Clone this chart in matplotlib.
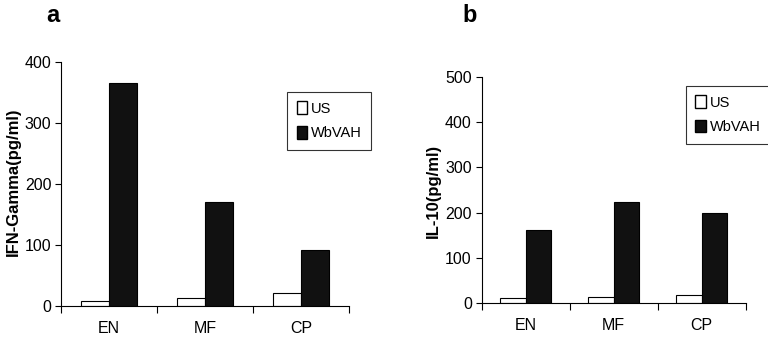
import matplotlib.pyplot as plt
from matplotlib.patches import Patch

# datos
categories = ['EN', 'MF', 'CP']
ifn_us = [8, 13, 21]
ifn_wbvah = [366, 170, 92]
il10_us = [10, 13, 18]
il10_wbvah = [161, 224, 198]

plt.rcParams['font.family'] = ['Liberation Sans', 'DejaVu Sans']

fig = plt.figure(figsize=(7.68, 3.37), dpi=100)
ax_a = fig.add_axes([0.0794, 0.092, 0.375, 0.724])
ax_b = fig.add_axes([0.627, 0.101, 0.344, 0.671])

def draw_panel(ax, us, wb, ymax, leg_pos):
    w = 0.292
    centers = [i + 0.5 for i in range(len(categories))]
    ax.bar([c - w for c in centers], us, width=w, align='edge',
           color='white', edgecolor='black', linewidth=0.8)
    ax.bar(centers, wb, width=w, align='edge',
           color='#111111', edgecolor='black', linewidth=0.8)
    ax.set_xlim(0, len(categories))
    ax.set_ylim(0, ymax)
    ax.set_yticks(range(0, ymax + 1, 100))
    ax.set_xticks(range(len(categories) + 1))
    ax.set_xticklabels([])
    ax.set_xticks(centers, categories, minor=True)
    ax.tick_params(axis='x', which='minor', length=0, pad=11, labelsize=11.5)
    ax.tick_params(axis='x', which='major', length=5, direction='out')
    ax.tick_params(axis='y', length=4, labelsize=11.5, pad=3)
    for s in ['top', 'right']:
        ax.spines[s].set_visible(False)
    handles = [Patch(facecolor='white', edgecolor='black', label='US'),
               Patch(facecolor='#111111', edgecolor='black', label='WbVAH')]
    leg = ax.legend(handles=handles, loc='upper left', bbox_to_anchor=leg_pos,
                    fancybox=False, edgecolor='black', fontsize=10.5,
                    handlelength=0.75, handleheight=0.95, handletextpad=0.25,
                    labelspacing=0.7, borderpad=0.65, borderaxespad=0)
    leg.get_frame().set_linewidth(0.8)

draw_panel(ax_a, ifn_us, ifn_wbvah, 400, (0.785, 0.877))
draw_panel(ax_b, il10_us, il10_wbvah, 500, (0.773, 0.96))

# etiquetas del eje y como texto de figura para que no se corten
fig.text(13 / 768, 1 - 182 / 337, 'IFN-Gamma(pg/ml)', fontsize=12, fontweight='bold',
         rotation=90, ha='center', va='center')
fig.text(433 / 768, 1 - 191 / 337, 'IL-10(pg/ml)', fontsize=12, fontweight='bold',
         rotation=90, ha='center', va='center')

fig.text(53 / 768, 1 - 15 / 337, 'a', fontsize=17, fontweight='bold', ha='center', va='center')
fig.text(470 / 768, 1 - 15 / 337, 'b', fontsize=17, fontweight='bold', ha='center', va='center')

fig.savefig('out.png', dpi=100)
